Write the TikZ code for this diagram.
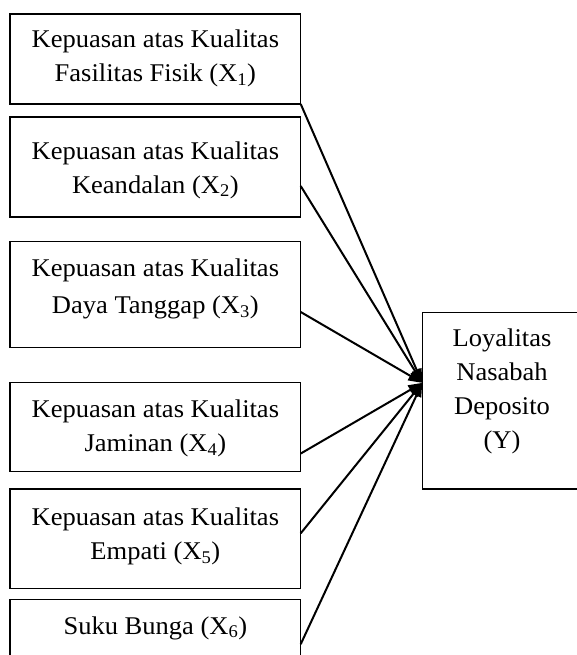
\documentclass[tikz,border=0pt]{standalone}
\usepackage{fontspec}
\setmainfont[FakeStretch=1.04]{Liberation Serif}
\usetikzlibrary{arrows.meta,calc}
\begin{document}
\begin{tikzpicture}[x=1pt,y=-1pt,
  box/.style={draw, line width=1.5pt, inner sep=0pt, outer sep=0pt, anchor=north west, minimum width=290.7pt},
  txt/.style={font=\fontsize{25.5}{34}\selectfont, align=center, inner sep=0pt},
  arr/.style={line width=2pt, -{Triangle[length=14pt,width=10pt]}}]
\useasboundingbox (0,0) rectangle (577,655);
\clip (0,0) rectangle (577,655);
% boxes
\node[box, minimum height=90pt]    (b1) at (10,14) {};
\node[box, minimum height=100pt]   (b2) at (10,117) {};
\node[box, minimum height=106pt]   (b3) at (10,241.7) {};
\node[box, minimum height=89.3pt]  (b4) at (10,382.3) {};
\node[box, minimum height=99.3pt]  (b5) at (10,489) {};
\node[box, minimum height=60pt]    (b6) at (10,599.3) {};
\node[box, minimum width=160pt, minimum height=176.3pt] (Y) at (422.3,312.7) {};
% texts
\node[txt] (t1) at (155.35,58.2) {Kepuasan atas Kualitas\\Fasilitas Fisik (X\textsubscript{1})};
\node[txt] (t2) at (155.35,170) {Kepuasan atas Kualitas\\Keandalan (X\textsubscript{2})};
\node[txt, font=\fontsize{25.5}{36.6}\selectfont] (t3) at (155.35,289) {Kepuasan atas Kualitas\\Daya Tanggap (X\textsubscript{3})};
\node[txt] (t4) at (155.35,428.7) {Kepuasan atas Kualitas\\Jaminan (X\textsubscript{4})};
\node[txt] (t5) at (155.35,536.5) {Kepuasan atas Kualitas\\Empati (X\textsubscript{5})};
\node[txt] (t6) at (155.35,628.1) {Suku Bunga (X\textsubscript{6})};
\node[txt] (ty) at (502,391.6) {Loyalitas\\Nasabah\\Deposito\\(Y)};
% connectors
\coordinate (tip) at ($(Y.west)+(0,-18)$);
\coordinate (s1) at (b1.south east);
\coordinate (s2) at ($(b2.east)+(0,19)$);
\coordinate (s3) at ($(b3.east)+(0,17.3)$);
\coordinate (s4) at ($(b4.east)+(0,26.6)$);
\coordinate (s5) at ($(b5.east)+(0,-5.3)$);
\coordinate (s6) at ($(b6.east)+(0,14.9)$);
\foreach \s in {s1,s2,s3,s4,s5,s6}{
  \draw[arr] (\s) -- (tip);
}
\end{tikzpicture}
\end{document}
